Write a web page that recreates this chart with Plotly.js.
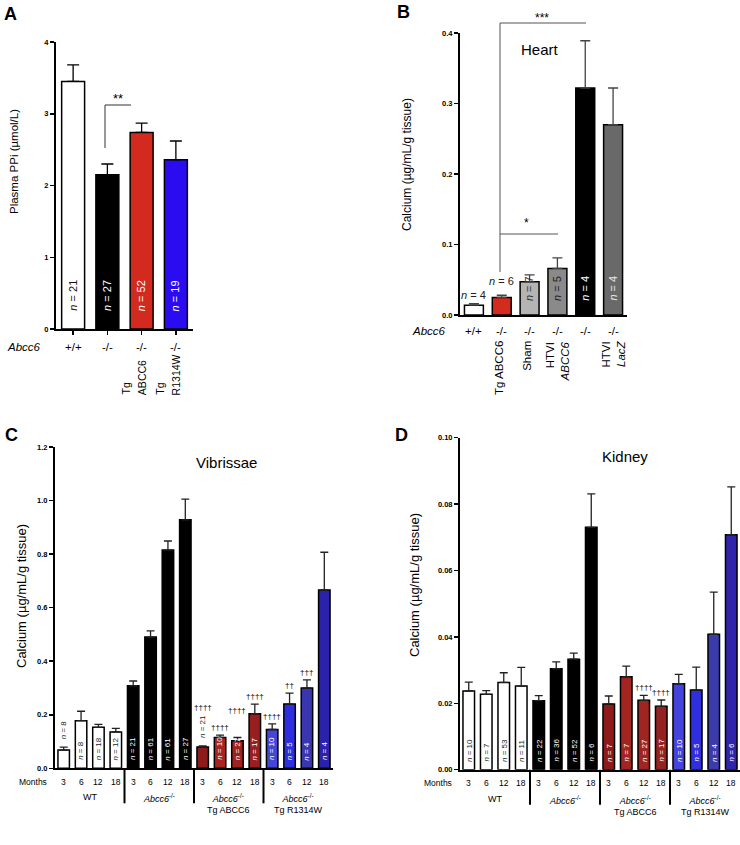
<!DOCTYPE html>
<html><head><meta charset="utf-8">
<script src="https://cdn.plot.ly/plotly-3.0.1.min.js"></script>
<style>html,body{margin:0;padding:0;background:#fff}#chart{width:740px;height:845px}</style>
</head><body><div id="chart"></div>
<script>
// ---------- Panel A : Plasma PPi ----------
const aGenotype = ["+/+", "-/-", "-/-", "-/-"];
const aTreatment = ["", "", "Tg<br>ABCC6", "Tg<br>R1314W"];
const aValues = [3.45, 2.15, 2.74, 2.36];
const aSem = [0.23, 0.15, 0.13, 0.26];
const aN = [21, 27, 52, 19];

// ---------- Panel B : Heart ----------
const bGenotype = ["+/+", "-/-", "-/-", "-/-", "-/-", "-/-"];
const bTreatment = ["", "Tg ABCC6", "Sham", "HTVI<br><i>ABCC6</i>", "", "HTVI<br><i>LacZ</i>"];
const bValues = [0.014, 0.025, 0.047, 0.066, 0.322, 0.270];
const bSem = [0.002, 0.003, 0.010, 0.015, 0.067, 0.052];
const bN = [4, 6, 7, 5, 4, 4];

// ---------- Panels C and D : time course ----------
const months = ["3", "6", "12", "18", "3", "6", "12", "18", "3", "6", "12", "18", "3", "6", "12", "18"];
const groupNames = ["WT", "<i>Abcc6</i><sup>-/-</sup>", "<i>Abcc6</i><sup>-/-</sup><br>Tg ABCC6", "<i>Abcc6</i><sup>-/-</sup><br>Tg R1314W"];

const cValues = [0.068, 0.178, 0.153, 0.136, 0.308, 0.490, 0.815, 0.928, 0.080, 0.115, 0.103, 0.204, 0.145, 0.240, 0.300, 0.666];
const cSem = [0.011, 0.035, 0.011, 0.013, 0.018, 0.023, 0.034, 0.077, 0.004, 0.009, 0.012, 0.036, 0.021, 0.041, 0.030, 0.141];
const cN = [8, 8, 18, 12, 21, 61, 61, 27, 21, 10, 27, 17, 10, 5, 4, 4];
const cDaggers = ["", "", "", "", "", "", "", "", "††††", "††††", "††††", "††††", "††††", "††", "†††", ""];

const dValues = [0.0237, 0.0227, 0.0263, 0.0252, 0.0208, 0.0304, 0.0333, 0.0730, 0.0198, 0.0280, 0.0209, 0.0191, 0.0259, 0.0240, 0.0408, 0.0708];
const dSem = [0.0027, 0.0011, 0.0029, 0.0056, 0.0015, 0.0021, 0.0018, 0.0101, 0.0024, 0.0032, 0.0015, 0.0019, 0.0028, 0.0069, 0.0127, 0.0144];
const dN = [10, 7, 53, 11, 22, 36, 52, 6, 7, 7, 27, 17, 10, 5, 4, 6];
const dDaggers = ["", "", "", "", "", "", "", "", "", "", "††††", "††††", "", "", "", ""];

// ---------- styles ----------
const FONT = "Liberation Sans, Arial, Helvetica, sans-serif";
const W = 740, H = 845;
const px = x => x / W, py = y => 1 - y / H;
const aColors = ["#ffffff", "#000000", "#d22a1e", "#2b0cf0"];
const bColors = ["#ffffff", "#d42b1e", "#b4b4b4", "#8a8a8a", "#000000", "#696969"];
const bTextColors = ["#222", "#222", "#333", "#222", "#ffffff", "#e8e8e8"];
const cColors = ["#fff", "#fff", "#fff", "#fff", "#000", "#000", "#000", "#000",
  "#8e1b1b", "#a82421", "#a02220", "#981f1f", "#4646d6", "#2e2ee0", "#3a36b0", "#2b22ab"];
const dColors = ["#fff", "#fff", "#fff", "#fff", "#000", "#000", "#000", "#000",
  "#8e1a1a", "#a32521", "#a02420", "#962220", "#4444dd", "#2f2fe0", "#3b3bab", "#3024aa"];

const nText = n => "<i>n</i> = " + n;
const idx = arr => arr.map((_, i) => i);
const zeros = arr => arr.map(() => 0);

function barTrace(vals, sem, colors, xa, ya, width, capw, errColor) {
  return {
    type: "bar", x: idx(vals), y: vals, width: width, xaxis: xa, yaxis: ya,
    marker: { color: colors, line: { color: "#000", width: 1.5 } },
    error_y: { type: "data", array: sem, arrayminus: zeros(sem), symmetric: false,
      color: errColor, thickness: 1.3, width: capw },
    hoverinfo: "none", showlegend: false
  };
}

const traces = [
  barTrace(aValues, aSem, aColors, "x", "y", 0.67, 6, "#000"),
  barTrace(bValues, bSem, bColors, "x2", "y2", 0.68, 5, "#444"),
  barTrace(cValues, cSem, cColors, "x3", "y3", 0.66, 4, "#222"),
  barTrace(dValues, dSem, dColors, "x4", "y4", 0.66, 4, "#222")
];

const yBase = { showline: true, linecolor: "#000", linewidth: 2, ticks: "outside", ticklen: 4,
  tickwidth: 1.5, tickcolor: "#000", showgrid: false, zeroline: false, fixedrange: true,
  tickfont: { family: FONT, size: 7.5, color: "#000", weight: "bold" } };
const xBase = { showline: true, linecolor: "#000", linewidth: 2, showgrid: false, zeroline: false,
  showticklabels: false, ticks: "", fixedrange: true };

// axis geometry (pixels)
const axA = { x0: 56, x1: 193, y0: 329, y1: 42 };
const axB = { x0: 460, x1: 627, y0: 315, y1: 33 };
const axC = { x0: 55, x1: 333, y0: 768.3, y1: 447 };
const axD = { x0: 460, x1: 740, y0: 769.7, y1: 437.7 };
const dom = g => ({ x: [px(g.x0), px(g.x1)], y: [py(g.y0), py(g.y1)] });

const layout = {
  width: W, height: H, margin: { l: 0, r: 0, t: 0, b: 0 }, autosize: false,
  paper_bgcolor: "#fff", plot_bgcolor: "rgba(0,0,0,0)", showlegend: false, bargap: 0,
  font: { family: FONT, color: "#000" },
  xaxis: Object.assign({}, xBase, { domain: dom(axA).x, anchor: "y", range: [-0.5, 3.5],
    ticks: "outside", tickvals: [0, 1, 2, 3], ticklen: 4, tickwidth: 1.5, tickcolor: "#000" }),
  yaxis: Object.assign({}, yBase, { domain: dom(axA).y, anchor: "x", range: [0, 4], dtick: 1, tick0: 0 }),
  xaxis2: Object.assign({}, xBase, { domain: dom(axB).x, anchor: "y2", range: [-0.5, 5.5] }),
  yaxis2: Object.assign({}, yBase, { domain: dom(axB).y, anchor: "x2", range: [0, 0.4], dtick: 0.1, tick0: 0, tickformat: ".1f" }),
  xaxis3: Object.assign({}, xBase, { domain: dom(axC).x, anchor: "y3", range: [-0.5, 15.5] }),
  yaxis3: Object.assign({}, yBase, { domain: dom(axC).y, anchor: "x3", range: [0, 1.2], dtick: 0.2, tick0: 0, tickformat: ".1f" }),
  xaxis4: Object.assign({}, xBase, { domain: dom(axD).x, anchor: "y4", range: [-0.5, 15.5] }),
  yaxis4: Object.assign({}, yBase, { domain: dom(axD).y, anchor: "x4", range: [0, 0.1], dtick: 0.02, tick0: 0, tickformat: ".2f" }),
  annotations: [], shapes: []
};

const ann = layout.annotations;
function txt(o) {
  ann.push(Object.assign({ showarrow: false, xref: "paper", yref: "paper", xanchor: "center", yanchor: "middle",
    font: { family: FONT, size: 11, color: "#000" } }, o));
}
function line(x0, y0, x1, y1, color, w) {
  layout.shapes.push({ type: "line", xref: "paper", yref: "paper", x0: px(x0), y0: py(y0), x1: px(x1), y1: py(y1),
    line: { color: color, width: w } });
}

// panel letters
[["A", 2, 14], ["B", 395, 12], ["C", 3, 435], ["D", 393, 435]].forEach(([t, x, y]) =>
  txt({ text: "<b>" + t + "</b>", x: px(x), y: py(y), xanchor: "left", font: { family: FONT, size: 18, color: "#000" } }));

// y-axis titles
txt({ text: "Plasma PPi (µmol/L)", x: px(14), y: py(162), textangle: -90, font: { family: FONT, size: 11.5, color: "#000" } });
txt({ text: "Calcium (µg/mL/g tissue)", x: px(407), y: py(165), textangle: -90, font: { family: FONT, size: 12, color: "#000" } });
txt({ text: "Calcium (µg/mL/g tissue)", x: px(21), y: py(596), textangle: -90, font: { family: FONT, size: 13, color: "#000" } });
txt({ text: "Calcium (µg/mL/g tissue)", x: px(414), y: py(585), textangle: -90, font: { family: FONT, size: 13, color: "#000" } });

// panel titles
txt({ text: "Heart", x: px(540), y: py(49), font: { family: FONT, size: 15, color: "#000" } });
txt({ text: "Vibrissae", x: px(226), y: py(462), font: { family: FONT, size: 15, color: "#000" } });
txt({ text: "Kidney", x: px(625), y: py(456), font: { family: FONT, size: 15, color: "#000" } });

// ----- Panel A labels -----
txt({ text: "<i>Abcc6</i>", x: px(24), y: py(347), font: { family: FONT, size: 11.5, color: "#000" } });
aGenotype.forEach((g, i) => txt({ text: g, xref: "x", x: i, y: py(347), font: { family: FONT, size: 11.5, color: "#000" } }));
aTreatment.forEach((t, i) => {
  if (!t) return;
  const parts = t.split("<br>");
  parts.forEach((p, k) => txt({ text: p, xref: "x", x: i - 0.47 * (parts.length - 1 - k), y: py(396), yanchor: "bottom",
    textangle: -90, borderpad: 0, font: { family: FONT, size: 10.5, color: "#000" } }));
});
aN.forEach((n, i) => txt({ text: nText(n), xref: "x", yref: "y", x: i, y: 0, yanchor: "bottom", yshift: 16,
  textangle: -90, font: { family: FONT, size: 11, color: i === 0 ? "#111" : "#fff" } }));
txt({ text: "**", x: px(118), y: py(99), font: { family: FONT, size: 13, color: "#000" } });
line(105, 148, 105, 105, "#333", 1);
line(105, 105, 131, 105, "#333", 1);

// ----- Panel B labels -----
txt({ text: "<i>Abcc6</i>", x: px(429), y: py(331), font: { family: FONT, size: 11.5, color: "#000" } });
bGenotype.forEach((g, i) => txt({ text: g, xref: "x2", x: i, y: py(331), font: { family: FONT, size: 11.5, color: "#000" } }));
bTreatment.forEach((t, i) => { if (t) txt({ text: t, xref: "x2", x: i - (t.indexOf("<br>") > 0 ? 0 : 0.1), y: py(340), yanchor: "top",
  textangle: -90, align: "right", borderpad: 0, font: { family: FONT, size: 11.5, color: "#000" } }); });
bN.forEach((n, i) => {
  if (i < 2) txt({ text: nText(n), xref: "x2", yref: "y2", x: i, y: bValues[i] + bSem[i], yanchor: "bottom", yshift: i === 0 ? 1 : 6,
    font: { family: FONT, size: 11, color: "#222" } });
  else txt({ text: nText(n), xref: "x2", yref: "y2", x: i, y: 0, yanchor: "bottom", yshift: 12, textangle: -90,
    font: { family: FONT, size: 11, color: bTextColors[i] } });
});
txt({ text: "***", x: px(542), y: py(18), font: { family: FONT, size: 12, color: "#000" } });
txt({ text: "*", x: px(526), y: py(223), font: { family: FONT, size: 12, color: "#000" } });
line(500, 272, 500, 23, "#555", 1);
line(500, 23, 586, 23, "#555", 1);
line(500, 234, 558, 234, "#555", 1);

// ----- Panels C & D labels -----
function timePanel(xa, ya, g, vals, sem, ns, daggers, monthsY, groupY, monthsLabelX, aboveIdx, daggerExtra) {
  const span = g.x1 - g.x0, toPx = v => g.x0 + (v + 0.5) / 16 * span;
  txt({ text: "Months", x: px(monthsLabelX), y: py(monthsY), font: { family: FONT, size: 8.5, color: "#000" } });
  months.forEach((m, i) => txt({ text: m, xref: xa, x: i, y: py(monthsY), font: { family: FONT, size: 8.5, color: "#000" } }));
  groupNames.forEach((gName, k) => txt({ text: gName, xref: xa, x: k * 4 + 1.5, y: py(groupY), yanchor: "top",
    font: { family: FONT, size: 9, color: "#000" } }));
  [3.5, 7.5, 11.5].forEach(s => line(toPx(s), g.y0, toPx(s), g.y0 + 35, "#000", 2));
  ns.forEach((n, i) => {
    const dark = i >= 4;
    if (aboveIdx.indexOf(i) >= 0)
      txt({ text: nText(n), xref: xa, yref: ya, x: i, y: vals[i] + sem[i], yanchor: "bottom", yshift: 6, textangle: -90,
        font: { family: FONT, size: 8, color: "#222" } });
    else
      txt({ text: nText(n), xref: xa, yref: ya, x: i, y: 0, yanchor: "bottom", yshift: 6, textangle: -90,
        font: { family: FONT, size: 8, color: dark ? "#fff" : "#222" } });
  });
  daggers.forEach((d, i) => {
    if (!d) return;
    let shift = 1;
    if (aboveIdx.indexOf(i) >= 0) shift = 32;
    if (daggerExtra[i]) shift += daggerExtra[i];
    txt({ text: d, xref: xa, yref: ya, x: i, y: vals[i] + sem[i], yanchor: "bottom", yshift: shift,
      font: { family: FONT, size: 8, color: "#000" } });
  });
}
timePanel("x3", "y3", axC, cValues, cSem, cN, cDaggers, 782, 790, 33, [0, 8], { 10: 20 });
timePanel("x4", "y4", axD, dValues, dSem, dN, dDaggers, 783, 792, 438, [], {});

Plotly.newPlot("chart", traces, layout, { staticPlot: true, displayModeBar: false });
</script>
</body></html>
